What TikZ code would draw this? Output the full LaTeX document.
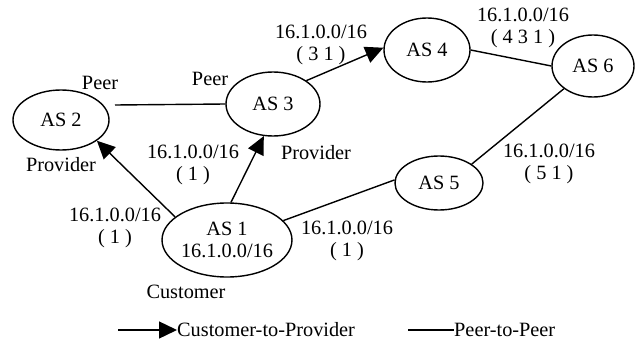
\documentclass[tikz,border=0pt]{standalone}
\usepackage{fontspec}
\setmainfont{Liberation Serif}
\usetikzlibrary{shapes.geometric,arrows.meta}
\begin{document}
\begin{tikzpicture}[x=1pt,y=-1pt,
  every node/.style={font=\fontsize{20.3}{22}\selectfont},
  as/.style={ellipse,draw,line width=1.4pt,inner sep=0pt},
  lbl/.style={inner sep=0pt,align=center},
  link/.style={line width=1.4pt},
  c2p/.style={line width=1.4pt,-{Triangle[length=18pt,width=17pt]}}]
\useasboundingbox (0,0) rectangle (638,340);
\node[as,minimum width=96pt,minimum height=60pt] (as2) at (61,120) {AS 2};
\node[as,minimum width=94pt,minimum height=64pt] (as3) at (273,104) {AS 3};
\node[as,minimum width=86pt,minimum height=64pt] (as4) at (427,50) {AS 4};
\node[as,minimum width=82pt,minimum height=62pt] (as6) at (593,66) {AS 6};
\node[as,minimum width=88pt,minimum height=54pt] (as5) at (439,183) {AS 5};
\node[as,minimum width=108pt,minimum height=74pt,align=center] (as1) at (227,240) {AS 1\\16.1.0.0/16};
% links
\coordinate (p2) at (115,105);
\draw[link] (p2) -- (as3.west);
\draw[c2p] (as1.156) -- (as2.-30);
\draw[c2p] (as1.84) -- (as3.254);
\draw[c2p] (as3.35) -- (as4.177);
\draw[link] (as4.0) -- (as6.180);
\draw[link] (as6.218) -- (as5.30);
\draw[link] (as1.19) -- (as5.176);
% labels
\node[lbl] (lpeer2) at (100,83) {Peer};
\node[lbl] (lpeer3) at (210,79) {Peer};
\node[lbl] (lprov2) at (61,165) {Provider};
\node[lbl] (lprov3) at (316,153) {Provider};
\node[lbl] (lcust) at (186,292) {Customer};
\node[lbl] (l13) at (193,165) {16.1.0.0/16\\( 1 )};
\node[lbl] (l12) at (115,228) {16.1.0.0/16\\( 1 )};
\node[lbl] (l15) at (347,241) {16.1.0.0/16\\( 1 )};
\node[lbl] (l34) at (321,45) {16.1.0.0/16\\( 3 1 )};
\node[lbl] (l46) at (523,28) {16.1.0.0/16\\( 4 3 1 )};
\node[lbl] (l65) at (549,164) {16.1.0.0/16\\( 5 1 )};
% legend
\node[lbl,anchor=west] (leg1) at (177,330) {Customer-to-Provider};
\coordinate (leg1s) at (118,330);
\draw[c2p] (leg1s) -- (leg1.west);
\node[lbl,anchor=west] (leg2) at (454,330) {Peer-to-Peer};
\coordinate (leg2s) at (408,330);
\draw[link] (leg2s) -- (leg2.west);
\end{tikzpicture}
\end{document}
